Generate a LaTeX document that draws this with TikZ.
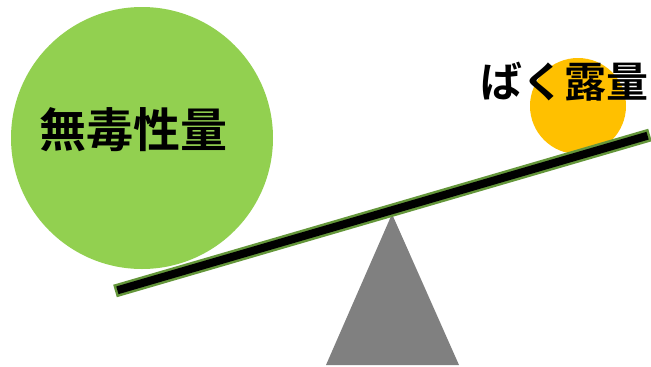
\documentclass[tikz,border=0pt]{standalone}
\usepackage{fontspec}
\newfontfamily\jpfont{Noto Sans CJK JP Bold}
\usepackage{tikz}
\definecolor{leafgreen}{HTML}{92D050}
\definecolor{amber}{HTML}{FFC000}
\definecolor{beamedge}{HTML}{64963A}

\begin{document}
\begin{tikzpicture}[x=1pt,y=-1pt]
\useasboundingbox (0,0) rectangle (651,367);
\node[circle,fill=leafgreen,minimum size=262pt,inner sep=0] (noael) at (142,138) {};
\node[circle,fill=amber,minimum size=96pt,inner sep=0] (expo) at (578,106) {};
% the fulcrum
\fill[gray] (392,214) -- (326,365) -- (459,365) -- cycle;
% the beam
\draw[beamedge,line width=13pt] (115,291) -- (650,135);
\draw[black,line width=8pt,shorten <=2.5pt,shorten >=2.5pt] (115,291) -- (650,135);
\node[font=\jpfont\fontsize{47}{50}\selectfont] (noaeltext) at (133,130) {無毒性量};
\node[font=\jpfont\fontsize{42}{46}\selectfont] (expotext) at (564,82) {ばく露量};
\end{tikzpicture}
\end{document}
